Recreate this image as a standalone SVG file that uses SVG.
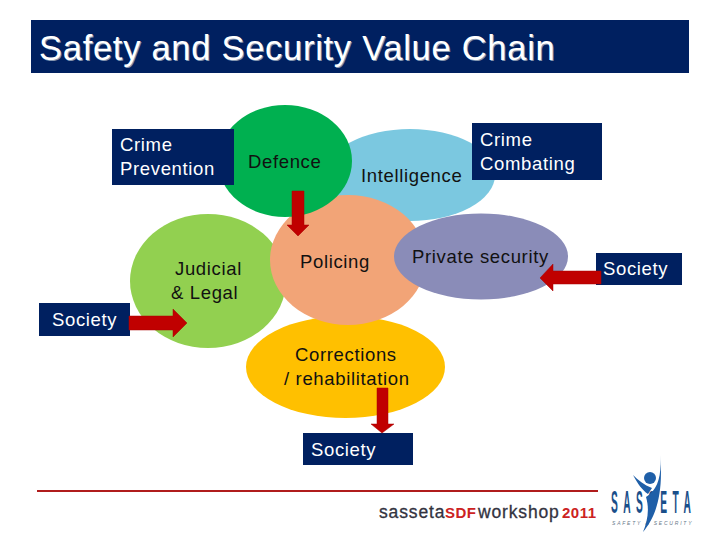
<svg xmlns="http://www.w3.org/2000/svg" width="720" height="540" viewBox="0 0 720 540">
<style>
text{font-family:"Liberation Sans",Arial,sans-serif;font-size:18.5px;letter-spacing:.65px}
.w{fill:#fff}
.k{fill:#111}
.box{fill:#002060}
.arrow{fill:#c00000;stroke:#a80000;stroke-width:.5}
.foot{font-size:17.5px;letter-spacing:.85px;fill:#33333f;stroke:#33333f;stroke-width:.3}
.red{font-size:15px;letter-spacing:.5px;font-weight:bold;fill:#cc2222}
</style>
<rect width="720" height="540" fill="#fff"/>
<g id="title">
<rect x="31" y="20" width="658" height="53" class="box"/>
<text x="40" y="60.500" style="font-size:34.500px;letter-spacing:.72px" fill="#8496b0">Safety and Security Value Chain</text>
<text x="39" y="59.500" style="font-size:34.500px;letter-spacing:.72px" fill="#fff">Safety and Security Value Chain</text>
</g>
<g id="judicial"><ellipse cx="208" cy="281" rx="78" ry="67" fill="#92d050"/><text x="175" y="275" class="k">Judicial</text><text x="171" y="299" class="k">&amp; Legal</text></g>
<g id="corrections"><ellipse cx="345.500" cy="367" rx="99.500" ry="51" fill="#ffc000"/><text x="295" y="361" class="k">Corrections</text><text x="284" y="385" class="k">/ rehabilitation</text></g>
<g id="intelligence"><ellipse cx="410" cy="175" rx="85" ry="46" fill="#7bc8e0"/><text x="361" y="182" class="k">Intelligence</text></g>
<g id="policing"><ellipse cx="348" cy="260" rx="78" ry="65" fill="#f2a477"/><text x="300" y="268" class="k">Policing</text></g>
<g id="defence"><ellipse cx="285" cy="161" rx="67" ry="56" fill="#00b050"/><text x="248" y="168" class="k">Defence</text></g>
<g id="private-security"><ellipse cx="481" cy="256.500" rx="87" ry="43" fill="#8a8cb8"/><text x="412" y="263" class="k">Private security</text></g>
<g id="crime-prevention"><rect x="112" y="129" width="122" height="56" class="box"/><text x="120" y="151" class="w">Crime</text><text x="120" y="175" class="w">Prevention</text></g>
<g id="crime-combating"><rect x="472" y="123" width="130" height="57" class="box"/><text x="480" y="146" class="w">Crime</text><text x="480" y="170" class="w">Combating</text></g>
<g id="society-left"><rect x="39" y="303" width="91" height="33" class="box"/><text x="52" y="326" class="w">Society</text></g>
<g id="society-right"><rect x="596" y="253" width="86" height="32" class="box"/><text x="603" y="275" class="w">Society</text></g>
<g id="society-bottom"><rect x="303" y="433" width="110" height="32" class="box"/><text x="311" y="456" class="w">Society</text></g>
<g id="connectors">
<polygon class="arrow" points="292,191 304,191 304,225 309,225 298,236 287,225 292,225"/>
<polygon class="arrow" points="129,316 173,316 173,309 187,323 173,337 173,330 129,330"/>
<polygon class="arrow" points="601,271 553,271 553,264 540,278 553,291 553,284 601,284"/>
<polygon class="arrow" points="377,388 388,388 388,424 394,424 382,433 371,424 377,424"/>
</g>
<g id="footer">
<line x1="37" y1="491" x2="598" y2="491" stroke="#b01c1c" stroke-width="2"/>
<text x="379" y="518" class="foot">sasseta</text>
<text x="445" y="518" class="red">SDF</text>
<text x="478" y="518" class="foot">workshop</text>
<text x="562" y="518" class="red">2011</text>
</g>
<g id="logo">
<text transform="translate(611 513) scale(.6 1.85)" style="font-size:17px;font-weight:bold;letter-spacing:9px" fill="#1a4f8a">SASSETA</text>
<text x="612" y="524.500" style="font-size:5px;letter-spacing:1.800px;font-style:italic" fill="#6a7a8a">SAFETY &amp; SECURITY</text>
<circle cx="650" cy="478" r="6" fill="#1f5fa8"/>
<path d="M660 455C662 475 658 490 646 497C650 510 647 522 643 532C655 518 664 495 660 455Z" fill="#1f5fa8"/>
<path d="M633 475C638 484 642 490 648 494L652 488C644 485 638 480 633 475Z" fill="#1f5fa8"/>
</g>
</svg>
